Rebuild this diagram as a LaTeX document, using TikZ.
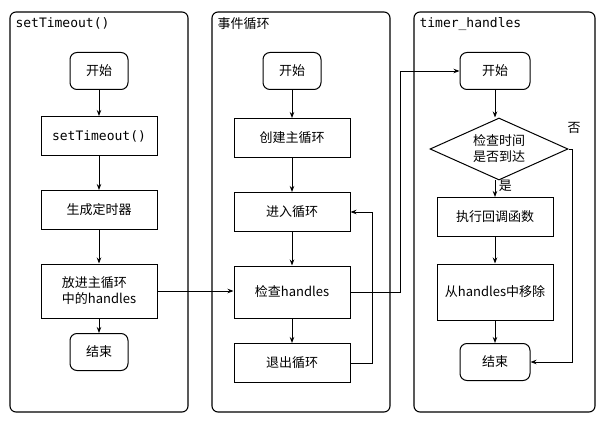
\documentclass[tikz,border=0pt]{standalone}
\usepackage{fontspec}
\setmainfont{Noto Sans CJK SC}
\setmonofont{DejaVu Sans Mono}
\usetikzlibrary{shapes.geometric,arrows.meta}
\newcommand{\fs}{\fontsize{13}{16}\selectfont}
\begin{document}
\begin{tikzpicture}[x=1pt,y=-1pt,
  panel/.style={draw,line width=1.1pt,rounded corners=6pt},
  ttl/.style={anchor=north west,font=\ttfamily\fs},
  rbox/.style={draw,line width=1pt,rounded corners=7pt,minimum width=58pt,minimum height=37pt,font=\fs},
  box/.style={draw,line width=1pt,minimum width=116pt,minimum height=39pt,font=\fs,align=center},
  dia/.style={draw,line width=1pt,diamond,aspect=2.2,minimum width=138pt,minimum height=62pt,inner sep=0pt,align=center,font=\fs},
  arr/.style={-{Stealth[length=6pt]},line width=0.9pt}]
\useasboundingbox (0,0) rectangle (607,430);
\draw[panel] (10,12) rectangle (188,412);
\draw[panel] (212,12) rectangle (390,412);
\draw[panel] (414,12) rectangle (595,412);
\node[ttl] (t1) at (12,14) {setTimeout()};
\node[ttl,font=\fs] (t2) at (214,14) {事件循环};
\node[ttl] (t3) at (416,14) {timer\_handles};
% panel 1
\node[rbox] (a1) at (99,71) {开始};
\node[box,font=\ttfamily\fs] (a2) at (99,136) {setTimeout()};
\node[box] (a3) at (99,210) {生成定时器};
\node[box,minimum height=54pt,align=left] (a4) at (99,291) {放进主循环\\中的handles};
\node[rbox] (a5) at (99,352) {结束};
\foreach \i/\j in {a1/a2,a2/a3,a3/a4,a4/a5} \draw[arr] (\i) -- (\j);
% panel 2
\node[rbox] (b1) at (292,71) {开始};
\node[box] (b2) at (292,138) {创建主循环};
\node[box] (b3) at (292,212) {进入循环};
\node[box,minimum height=52pt] (b4) at (292,292) {检查handles};
\node[box] (b5) at (292,363) {退出循环};
\foreach \i/\j in {b1/b2,b2/b3,b3/b4,b4/b5} \draw[arr] (\i) -- (\j);
% panel 3
\node[rbox,minimum width=70pt] (c1) at (495,71) {开始};
\node[dia] (c2) at (499,149) {检查时间\\是否到达};
\node[box] (c3) at (495,217) {执行回调函数};
\node[box,minimum height=56pt] (c4) at (495,292) {从handles中移除};
\node[rbox,minimum width=70pt] (c5) at (495,362) {结束};
\draw[arr] (c1) -- (c1 |- c2.north);
\draw[arr] (c2.south -| c3) -- node[right,font=\fs,pos=0.35]{是} (c3);
\draw[arr] (c3) -- (c4);
\draw[arr] (c4) -- (c5);
\coordinate (n1) at (572,149);
\draw[arr] (c2.east) -- (n1) -- (n1 |- c5) -- (c5.east);
\node[font=\fs] (no) at (574,128) {否};
% cross connectors
\draw[arr] (a4.east) -- (a4.east -| b4.west);
\coordinate (k1) at (400,292);
\coordinate (k2) at (400,71);
\draw[arr] (b4.east) -- (k1) -- (k2) -- (c1.west);
\coordinate (l1) at (372,363);
\coordinate (l2) at (372,212);
\draw[arr] (b5.east) -- (l1) -- (l2) -- (b3.east);
\end{tikzpicture}
\end{document}
